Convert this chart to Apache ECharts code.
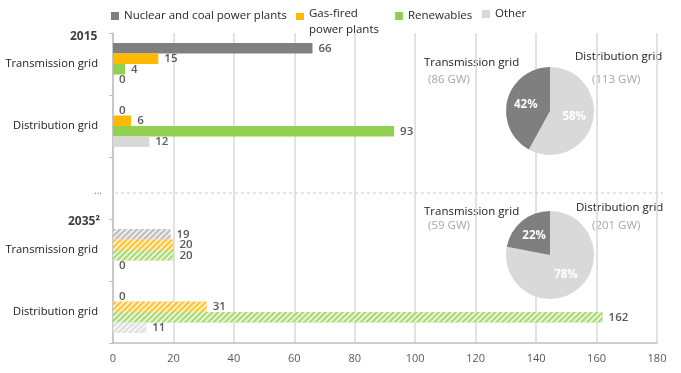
<!DOCTYPE html>
<html>
<head>
<meta charset="utf-8">
<script src="https://cdn.jsdelivr.net/npm/echarts@6/dist/echarts.min.js"></script>
<style>html,body{margin:0;padding:0;background:#fff;}#c{width:681px;height:373px;}</style>
</head>
<body>
<div id="c"></div>
<script>
// ---- data ----
var categories = ['Transmission grid', 'Distribution grid', '', 'Transmission grid', 'Distribution grid'];
var nuclearCoal = [66, 0, null, 19, 0];
var gasFired = [15, 6, null, 20, 31];
var renewables = [4, 93, null, 20, 162];
var other = [0, 12, null, 0, 11];
var hatchedRows = [3, 4]; // 2035 projections
var xTicks = [0, 20, 40, 60, 80, 100, 120, 140, 160, 180];
var pie2015Pct = [42, 58];   // transmission, distribution
var pie2035Pct = [22, 78];
var pie2015GW = [86, 113];
var pie2035GW = [59, 201];
var seriesNames = ['Nuclear and coal power plants', 'Gas-fired power plants', 'Renewables', 'Other'];
var colors = ['#7f7f7f', '#ffb900', '#92d050', '#d9d9d9'];
var hatchColors = ['#bdbdbd', '#ffc32e', '#a8d86e', '#dedede'];

var FONT = 'Open Sans';
var chart = echarts.init(document.getElementById('c'), null, {renderer: 'canvas'});

function buildData(vals, idx) {
  return vals.map(function (v, i) {
    if (hatchedRows.indexOf(i) >= 0) {
      return {
        value: v,
        itemStyle: {
          color: hatchColors[idx],
          decal: {
            symbol: 'rect',
            dashArrayX: [1, 0],
            dashArrayY: [1.3, 1.6],
            rotation: -Math.PI / 4,
            color: 'rgba(255,255,255,0.75)'
          }
        }
      };
    }
    return v;
  });
}

var allVals = [nuclearCoal, gasFired, renewables, other];
var barSeries = allVals.map(function (vals, idx) {
  return {
    type: 'bar',
    name: seriesNames[idx],
    data: buildData(vals, idx),
    barWidth: 10.5,
    barGap: '0%',
    itemStyle: {color: colors[idx]},
    silent: true,
    label: {
      show: true,
      position: 'right',
      distance: 6,
      color: '#595959',
      fontFamily: FONT,
      fontSize: 11.5,
      fontWeight: 600
    }
  };
});

function pieSeries(center, pct) {
  return {
    type: 'pie',
    center: center,
    radius: 44,
    startAngle: 90,
    clockwise: true,
    silent: true,
    label: {
      show: true,
      position: 'inside',
      formatter: '{c}%',
      color: '#ffffff',
      fontFamily: FONT,
      fontSize: 11.5,
      fontWeight: 'bold'
    },
    labelLine: {show: false},
    itemStyle: {borderWidth: 0},
    data: [
      {name: 'Distribution grid', value: pct[1], itemStyle: {color: '#d9d9d9'}},
      {name: 'Transmission grid', value: pct[0], itemStyle: {color: '#7f7f7f'}}
    ]
  };
}

function legendItem(i, left, fmt, icon, ih, top) {
  return {
    data: [seriesNames[i]],
    left: left,
    top: top,
    icon: icon,
    itemWidth: 8,
    itemHeight: ih,
    selectedMode: false,
    formatter: fmt,
    textStyle: {fontFamily: FONT, fontSize: 11.5, color: '#262626', lineHeight: 16}
  };
}

function txt(x, y, s, color, weight, size) {
  return {
    type: 'text', left: x, top: y,
    style: {text: s, fill: color, font: (weight || 'normal') + ' ' + (size || 12) + 'px "' + FONT + '"'}
  };
}

var option = {
  animation: false,
  backgroundColor: '#ffffff',
  legend: [
    legendItem(0, 106, null, 'rect', 8, 3),
    legendItem(1, 291, function () { return 'Gas-fired\npower plants'; },
      'path://M0,7H8V14H0Z M0,0H0.01V0.01H0Z M0,32H0.01V32.01H0Z', 32, 1),
    legendItem(2, 390, null, 'rect', 8, 3),
    legendItem(3, 477, null, 'rect', 8, 1)
  ],
  grid: {left: 113, right: 24, top: 33, bottom: 30, containLabel: false, outerBoundsMode: 'none'},
  xAxis: {
    type: 'value', min: xTicks[0], max: xTicks[xTicks.length - 1], interval: 20,
    axisLine: {show: true, lineStyle: {color: '#bfbfbf', width: 1.5}},
    axisTick: {show: false},
    axisLabel: {color: '#595959', fontFamily: FONT, fontSize: 11, margin: 10},
    splitLine: {show: true, lineStyle: {color: '#d9d9d9', width: 1.5}}
  },
  yAxis: {
    type: 'category', data: categories, inverse: true,
    axisLine: {show: true, lineStyle: {color: '#bfbfbf', width: 1.5}},
    axisTick: {show: true, length: 4, inside: false, lineStyle: {color: '#bfbfbf'}},
    axisLabel: {color: '#1a1a1a', fontFamily: FONT, fontSize: 11.2, margin: 15}
  },
  series: barSeries.concat([
    pieSeries([550, 111], pie2015Pct),
    pieSeries([550, 255], pie2035Pct)
  ]),
  graphic: [
    txt(70, 31, '2015', '#404040', 'bold', 12),
    txt(68, 216, '2035²', '#404040', 'bold', 12),
    {type: 'line', shape: {x1: 115, y1: 193, x2: 663, y2: 193},
      style: {stroke: '#c8c8c8', lineWidth: 1, lineDash: [3, 3]}},
    txt(94, 186, '...', '#7f7f7f', 'normal', 10),
    txt(424, 57, 'Transmission grid', '#1a1a1a', 'normal', 11.5),
    txt(428, 74, '(' + pie2015GW[0] + ' GW)', '#a6a6a6', 'normal', 11.5),
    txt(575, 51, 'Distribution grid', '#1a1a1a', 'normal', 11.5),
    txt(592, 74, '(' + pie2015GW[1] + ' GW)', '#a6a6a6', 'normal', 11.5),
    txt(424, 206, 'Transmission grid', '#1a1a1a', 'normal', 11.5),
    txt(428, 220, '(' + pie2035GW[0] + ' GW)', '#a6a6a6', 'normal', 11.5),
    txt(576, 202, 'Distribution grid', '#1a1a1a', 'normal', 11.5),
    txt(592, 220, '(' + pie2035GW[1] + ' GW)', '#a6a6a6', 'normal', 11.5)
  ]
};
chart.setOption(option);
</script>
</body>
</html>
